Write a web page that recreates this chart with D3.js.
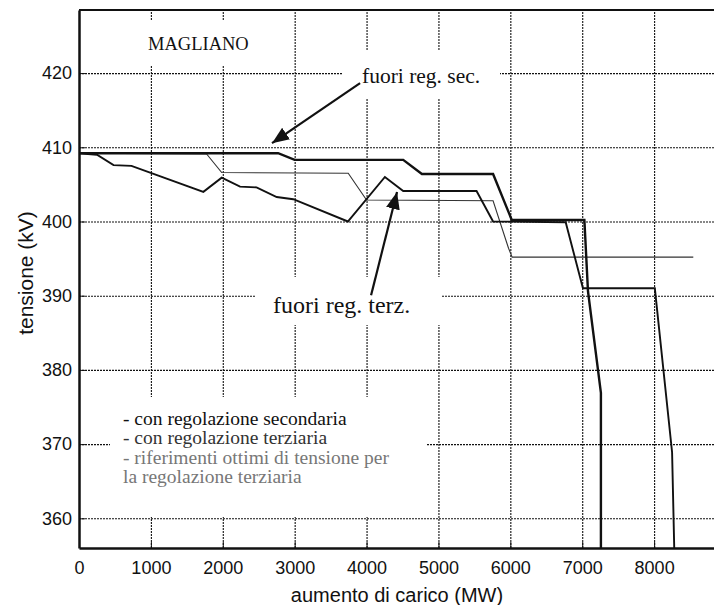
<!DOCTYPE html>
<html>
<head>
<meta charset="utf-8">
<script src="https://cdn.jsdelivr.net/npm/d3@7"></script>
<style>
  body { margin: 0; background: #fff; }
  .axis text { font-family: "Liberation Sans", Arial, sans-serif; font-size: 18px; fill: #111; }
  .axis path, .axis line { stroke: #111; }
  .grid line { stroke: #111; stroke-width: 1.1; stroke-dasharray: 2,1; }
  .grid path { display: none; }
  .serif { font-family: "Liberation Serif", "Times New Roman", serif; fill: #111; }
  .title { font-family: "Liberation Sans", Arial, sans-serif; font-size: 20px; fill: #111; }
</style>
</head>
<body>
<div class="chart-page"></div>
<script>
// tick values
let xTicks = [0, 1000, 2000, 3000, 4000, 5000, 6000, 7000, 8000];
let yTicks = [360, 370, 380, 390, 400, 410, 420];

// con regolazione secondaria
let secMW = [0, 2770, 3000, 4510, 4770, 5760, 6020, 7030, 7080, 7260, 7260];
let secKV = [409.2, 409.2, 408.3, 408.3, 406.4, 406.4, 400.2, 400.2, 390.6, 376.9, 356];

// con regolazione terziaria
let terzMW = [0, 250, 480, 730, 1730, 1985, 2240, 2470, 2750, 2980, 3740, 4255, 4510, 5530, 5760, 6770, 7010, 8010, 8250, 8280];
let terzKV = [409.2, 409.0, 407.6, 407.5, 404.0, 405.9, 404.7, 404.6, 403.3, 403.0, 400.0, 406.0, 404.1, 404.1, 400.0, 399.9, 391.0, 391.0, 368.9, 356];

// riferimenti ottimi di tensione per la regolazione terziaria
let ottMW = [0, 1775, 1985, 3745, 4000, 5760, 5975, 6025, 8545];
let ottKV = [409.2, 409.1, 406.6, 406.5, 402.9, 402.8, 396.4, 395.2, 395.2];

let legendLines = [
  "- con regolazione secondaria",
  "- con regolazione terziaria",
  "- riferimenti ottimi di tensione per",
  "la regolazione terziaria"
];

let width = 714, height = 605;
let plotLeft = 79, plotTop = 10, plotBottom = 548, plotRight = 726;

let svg = d3.select(".chart-page")
  .append("svg")
  .attr("width", width)
  .attr("height", height);

let x = d3.scaleLinear().domain([0, 9000]).range([plotLeft, plotRight]);
let y = d3.scaleLinear().domain([356, 428.5]).range([plotBottom, plotTop]);

// dotted grid
svg.append("g")
  .attr("class", "grid")
  .attr("transform", "translate(0," + plotBottom + ")")
  .call(d3.axisBottom(x).tickValues(xTicks.slice(1)).tickSize(-(plotBottom - plotTop)).tickFormat(""));

svg.append("g")
  .attr("class", "grid")
  .attr("transform", "translate(" + plotLeft + ",0)")
  .call(d3.axisLeft(y).tickValues(yTicks).tickSize(-(plotRight - plotLeft)).tickFormat(""));

// white boxes behind the texts hide the grid
let boxes = [
  [95, 20, 185, 46],
  [342, 50, 158, 48],
  [256, 277, 185, 48],
  [110, 397, 316, 120]
];
svg.selectAll("rect.box")
  .data(boxes)
  .enter()
  .append("rect")
  .attr("class", "box")
  .attr("x", d => d[0])
  .attr("y", d => d[1])
  .attr("width", d => d[2])
  .attr("height", d => d[3])
  .attr("fill", "#fff");

// frame
svg.append("line")
  .attr("x1", plotLeft).attr("x2", plotRight)
  .attr("y1", plotTop).attr("y2", plotTop)
  .attr("stroke", "#111").attr("stroke-width", 2);

// axes
svg.append("g")
  .attr("class", "axis")
  .attr("transform", "translate(0," + plotBottom + ")")
  .call(d3.axisBottom(x).tickValues(xTicks).tickFormat(d3.format("d")).tickSize(-6).tickPadding(13).tickSizeOuter(0))
  .call(g => g.select(".domain").attr("stroke-width", 2.5));

svg.append("g")
  .attr("class", "axis")
  .attr("transform", "translate(" + plotLeft + ",0)")
  .call(d3.axisLeft(y).tickValues(yTicks).tickFormat(d3.format("d")).tickSize(-6).tickPadding(7).tickSizeOuter(0))
  .call(g => g.select(".domain").attr("stroke-width", 2.5));

// series
let line = d3.line()
  .x(d => x(d[0]))
  .y(d => y(d[1]));

let series = [
  { mw: ottMW, kv: ottKV, w: 1.1, c: "#333" },
  { mw: terzMW, kv: terzKV, w: 1.9, c: "#111" },
  { mw: secMW, kv: secKV, w: 2.4, c: "#111" }
];

svg.selectAll("path.serie")
  .data(series)
  .enter()
  .append("path")
  .attr("class", "serie")
  .attr("fill", "none")
  .attr("stroke", d => d.c)
  .attr("stroke-width", d => d.w)
  .attr("stroke-linejoin", "miter")
  .attr("d", d => line(d3.zip(d.mw, d.kv)));

// arrows
svg.append("defs")
  .append("marker")
  .attr("id", "head")
  .attr("markerUnits", "userSpaceOnUse")
  .attr("markerWidth", 18)
  .attr("markerHeight", 14)
  .attr("refX", 17)
  .attr("refY", 7)
  .attr("orient", "auto")
  .append("path")
  .attr("d", "M0,0 L17,7 L0,14 Z")
  .attr("fill", "#111");

let arrows = [
  [3910, 418.65, 2685, 410.56],
  [4063, 390.07, 4424, 403.96]
];
svg.selectAll("line.arrow")
  .data(arrows)
  .enter()
  .append("line")
  .attr("class", "arrow")
  .attr("x1", d => x(d[0]))
  .attr("y1", d => y(d[1]))
  .attr("x2", d => x(d[2]))
  .attr("y2", d => y(d[3]))
  .attr("stroke", "#111")
  .attr("stroke-width", 2.2)
  .attr("marker-end", "url(#head)");

// annotations
svg.append("text").attr("class", "serif")
  .attr("x", x(960)).attr("y", 50)
  .style("font-size", "18.5px")
  .text("MAGLIANO");

svg.append("text").attr("class", "serif")
  .attr("x", 362).attr("y", 83)
  .style("font-size", "21.5px")
  .text("fuori reg. sec.");

svg.append("text").attr("class", "serif")
  .attr("x", 273).attr("y", 313)
  .style("font-size", "24px")
  .text("fuori reg. terz.");

svg.selectAll("text.legend")
  .data(legendLines)
  .enter()
  .append("text")
  .attr("class", "serif legend")
  .attr("x", 123)
  .attr("y", (d, i) => 425 + i * 19.4)
  .style("font-size", "19.5px")
  .style("fill", (d, i) => i == 0 ? "#111" : (i == 1 ? "#333" : "#777"))
  .text(d => d);

// axis titles
svg.append("text")
  .attr("class", "title")
  .attr("x", 397).attr("y", 602)
  .attr("text-anchor", "middle")
  .text("aumento di carico (MW)");

svg.append("text")
  .attr("class", "title")
  .attr("transform", "translate(26,273) rotate(-90)")
  .attr("text-anchor", "middle")
  .attr("dy", "0.35em")
  .style("font-size", "21px")
  .text("tensione (kV)");
</script>
</body>
</html>
